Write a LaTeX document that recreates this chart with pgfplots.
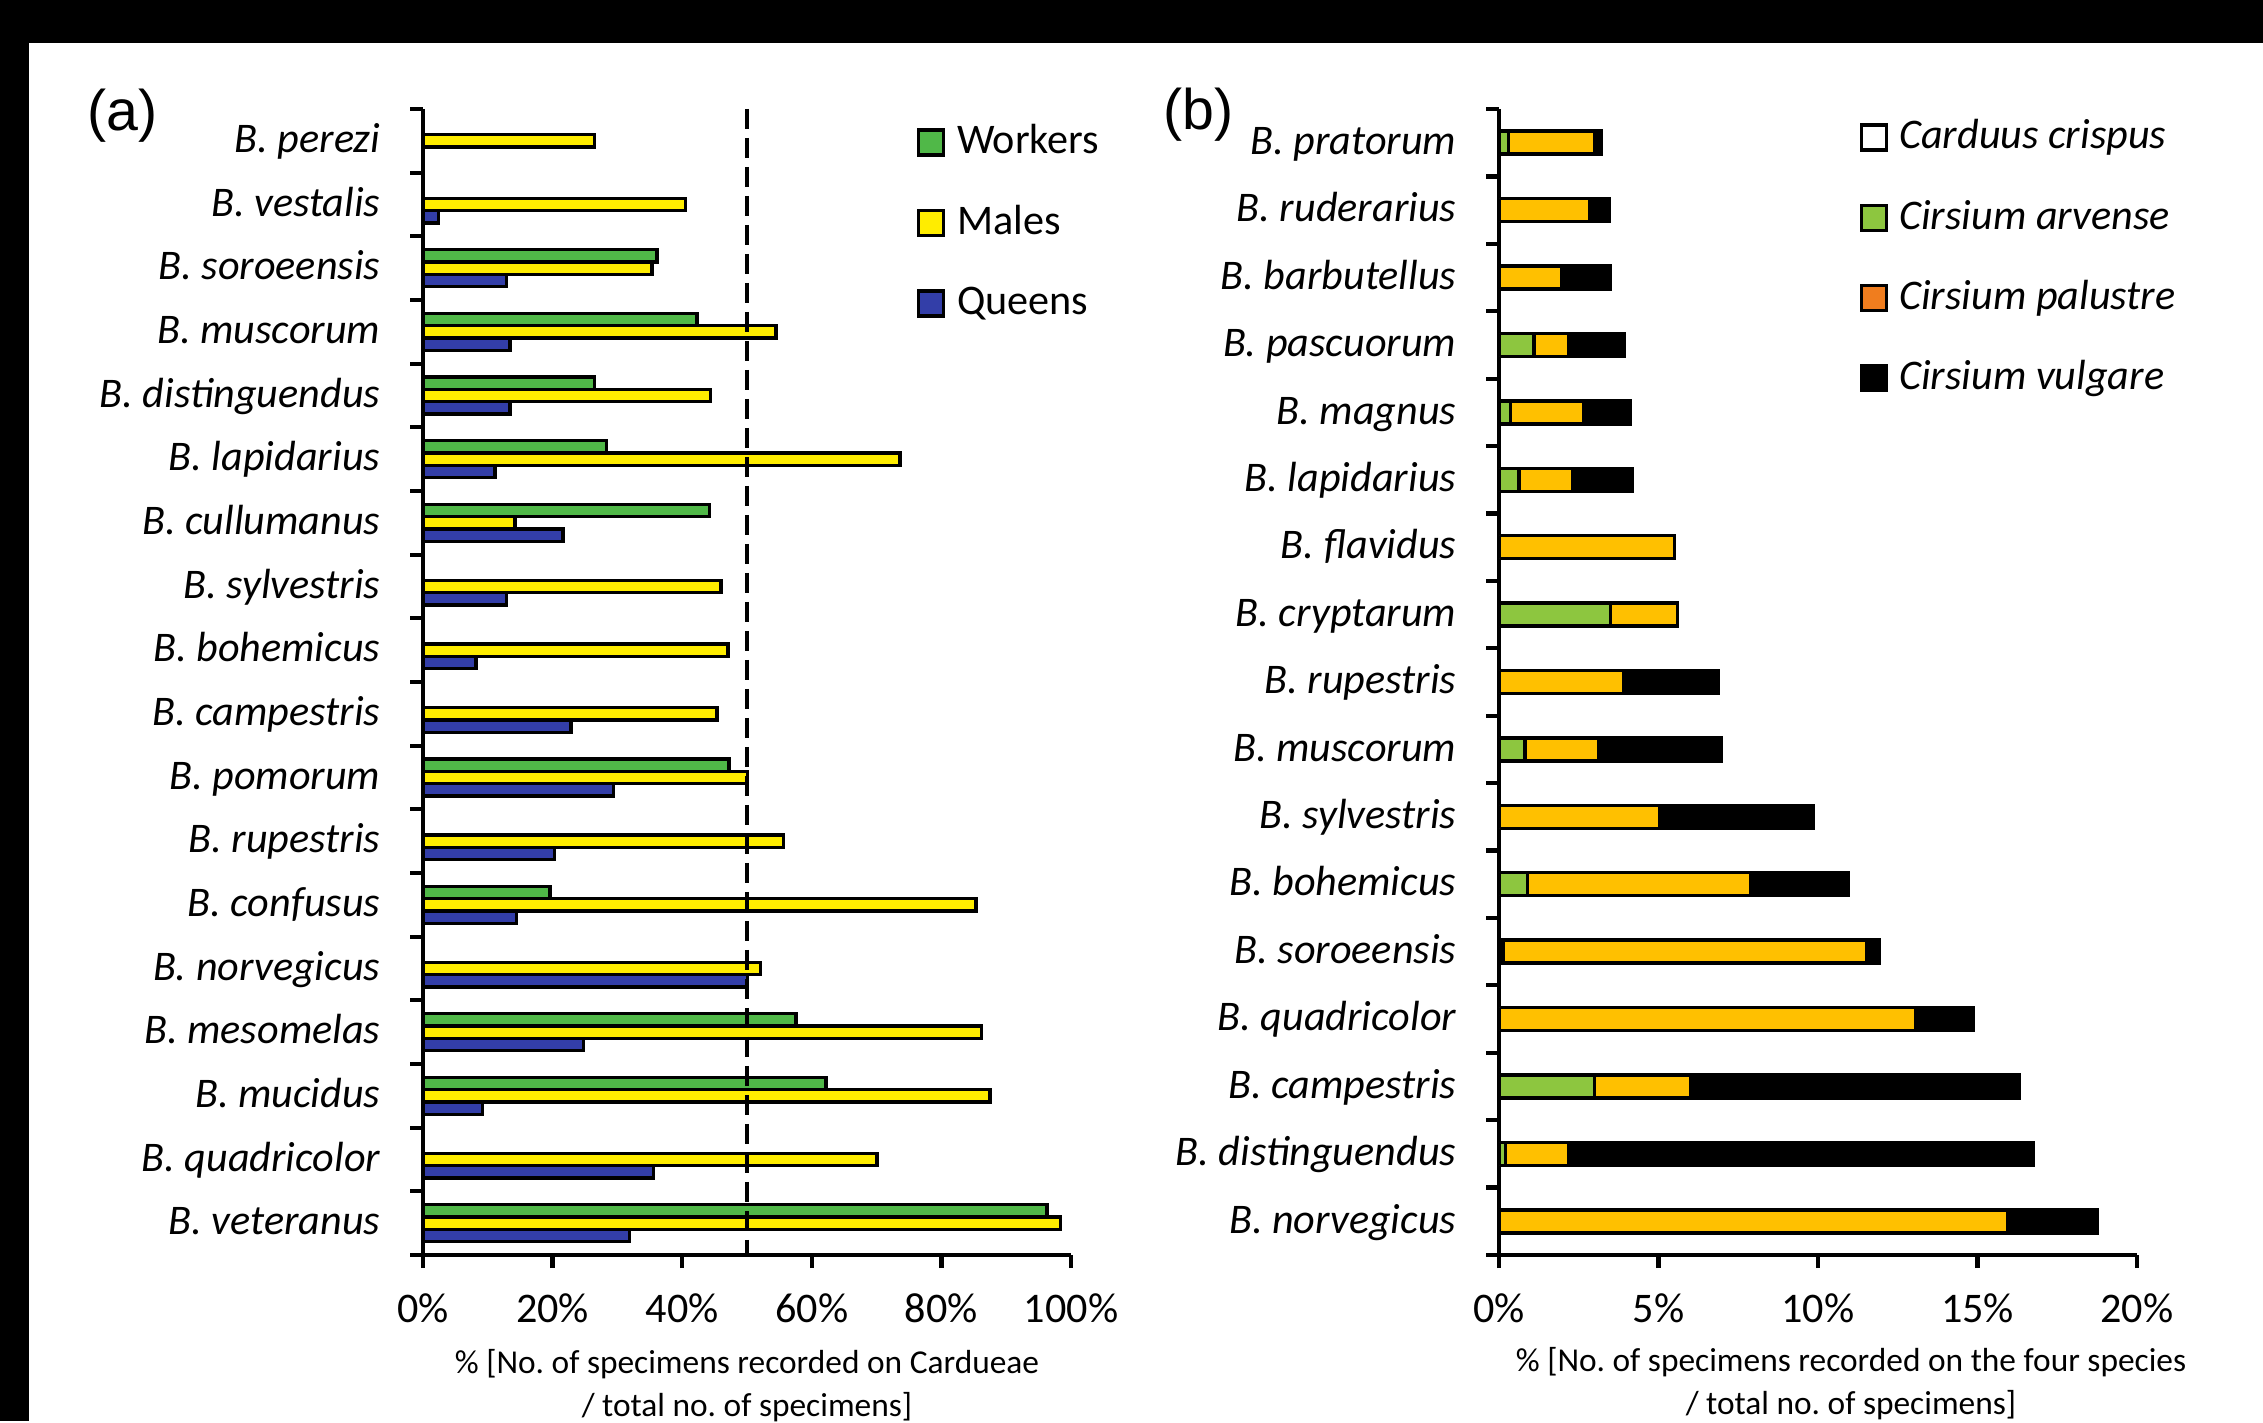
\documentclass[border=0pt]{standalone}
\usepackage{pgfplots}
\pgfplotsset{compat=1.18}
\usepackage{fontspec}
\setmainfont{Carlito}
\newfontfamily\arialfont{Liberation Sans}
\definecolor{wgreen}{RGB}{80,184,72}
\definecolor{myellow}{RGB}{255,237,0}
\definecolor{qblue}{RGB}{51,62,168}
\definecolor{agreen}{RGB}{141,198,63}
\definecolor{amber}{RGB}{255,192,0}
\definecolor{legorange}{RGB}{240,125,30}
\pgfplotsset{
  common/.style={
    scale only axis, clip=false,
    ymin=-0.5, ymax=17.5, y dir=reverse,
    axis x line*=bottom, axis y line*=left,
    axis line style={-, line width=1.2pt, black},
    tick style={black, line width=1.2pt},
    tick align=outside, major tick length=0.13cm, minor tick length=0.13cm,
    every major y tick/.append style={draw=none},
    xticklabel style={font=\fontsize{12}{14}\selectfont, anchor=base, inner sep=0pt, yshift=-0.54cm},
    yticklabel style={font=\fontsize{12}{14}\selectfont\itshape, anchor=base east, inner sep=0pt, xshift=-0.29cm, yshift=-0.117cm},
    xlabel style={font=\fontsize{9.5}{12.2}\selectfont, align=center, at={(axis description cs:0.5,0)}, anchor=north, inner sep=0pt, yshift=-0.94cm},
    legend image code/.code={\draw[##1, line width=0.9pt] (0cm,-0.01cm) rectangle (0.25cm,0.24cm); \path (0.37cm,0cm);},
    legend cell align=left,
    legend style={draw=none, fill=none, inner sep=0pt, outer sep=0pt, row sep=0.405cm,
      nodes={inner sep=0pt, text height=0.3cm, text depth=0.1cm, anchor=base west},
      font=\fontsize{12}{14}\selectfont},
  }
}
\begin{document}
\begin{tikzpicture}
\fill[white] (0,0) rectangle (22.63,14.21);
\fill[black] (0,13.78) rectangle (22.63,14.21);
\fill[black] (0,0) rectangle (0.29,14.21);
\node[font=\arialfont\fontsize{16.3}{19}\selectfont, anchor=base west, inner sep=0pt] at (0.87,12.90) {(a)};
\node[font=\arialfont\fontsize{16.3}{19}\selectfont, anchor=base west, inner sep=0pt] at (11.63,12.91) {(b)};

\begin{axis}[common,
  at={(4.23cm,1.66cm)}, anchor=south west, width=6.48cm, height=11.46cm,
  xmin=0, xmax=100,
  xtick={0,20,40,60,80,100}, xticklabels={0\%,20\%,40\%,60\%,80\%,100\%},
  ytick={0,...,17},
  yticklabels={B. perezi,B. vestalis,B. soroeensis,B. muscorum,B. distinguendus,B. lapidarius,B. cullumanus,B. sylvestris,B. bohemicus,B. campestris,B. pomorum,B. rupestris,B. confusus,B. norvegicus,B. mesomelas,B. mucidus,B. quadricolor,B. veteranus},
  minor ytick={-0.5,0.5,...,17.5},
  xlabel={\% [No.\ of specimens recorded on Cardueae\\/ total no.\ of specimens]},
  legend style={at={(axis description cs:0.762,1)}, anchor=north west, yshift=-0.15cm},
]
\addplot[xbar, bar width=0.123cm, bar shift=0.123cm, fill=wgreen, draw=black, line width=1pt]
  coordinates {(36.1,2) (42.3,3) (26.5,4) (28.3,5) (44.2,6) (47.2,10) (19.6,12) (57.6,14) (62.2,15) (96.3,17)};
\addlegendentry{Workers}
\addplot[xbar, bar width=0.123cm, bar shift=0cm, fill=myellow, draw=black, line width=1pt]
  coordinates {(26.5,0) (40.5,1) (35.3,2) (54.5,3) (44.4,4) (73.6,5) (14.2,6) (46.0,7) (47.1,8) (45.4,9) (50.1,10) (55.6,11) (85.3,12) (52.1,13) (86.2,14) (87.5,15) (70.1,16) (98.4,17)};
\addlegendentry{Males}
\addplot[xbar, bar width=0.123cm, bar shift=-0.123cm, fill=qblue, draw=black, line width=1pt]
  coordinates {(2.4,1) (12.9,2) (13.4,3) (13.4,4) (11.1,5) (21.6,6) (12.9,7) (8.2,8) (22.8,9) (29.4,10) (20.3,11) (14.4,12) (50.1,13) (24.8,14) (9.2,15) (35.6,16) (31.9,17)};
\addlegendentry{Queens}
\addplot[sharp plot, black, line width=1.2pt, dash pattern=on 0.2cm off 0.09cm, forget plot]
  coordinates {(50,-0.5) (50,17.5)};
\end{axis}

\begin{axis}[common,
  at={(14.99cm,1.66cm)}, anchor=south west, width=6.38cm, height=11.46cm,
  xmin=0, xmax=20, ymin=-0.5, ymax=16.5,
  stack plots=x,
  xtick={0,5,10,15,20}, xticklabels={0\%,5\%,10\%,15\%,20\%},
  ytick={0,...,16},
  yticklabels={B. pratorum,B. ruderarius,B. barbutellus,B. pascuorum,B. magnus,B. lapidarius,B. flavidus,B. cryptarum,B. rupestris,B. muscorum,B. sylvestris,B. bohemicus,B. soroeensis,B. quadricolor,B. campestris,B. distinguendus,B. norvegicus},
  minor ytick={-0.5,0.5,...,16.5},
  xlabel={\% [No.\ of specimens recorded on the four species\\/ total no.\ of specimens]},
  xlabel style={xshift=0.33cm, yshift=0.02cm},
  legend style={at={(axis description cs:0.5658,1)}, anchor=north west, yshift=-0.10cm, row sep=0.403cm},
]
\addplot[xbar, bar width=0.23cm, bar shift=0cm, fill=white, draw=black, line width=1pt, forget plot]
  coordinates {(0,0) (0,1) (0,2) (0,3) (0,4) (0,5) (0,6) (0,7) (0,8) (0,9) (0,10) (0,11) (0.12,12) (0,13) (0,14) (0,15) (0,16)};
\addplot[xbar, bar width=0.23cm, bar shift=0cm, fill=agreen, draw=black, line width=1pt, forget plot]
  coordinates {(0.3,0) (0,1) (0,2) (1.1,3) (0.36,4) (0.62,5) (0,6) (3.5,7) (0,8) (0.82,9) (0,10) (0.89,11) (0,12) (0,13) (3.0,14) (0.2,15) (0,16)};
\addplot[xbar, bar width=0.23cm, bar shift=0cm, fill=amber, draw=black, line width=1pt, forget plot]
  coordinates {(2.7,0) (2.85,1) (1.98,2) (1.1,3) (2.3,4) (1.7,5) (5.5,6) (2.1,7) (3.92,8) (2.3,9) (5.04,10) (7.0,11) (11.42,12) (13.07,13) (3.02,14) (1.99,15) (15.96,16)};
\addplot[xbar, bar width=0.23cm, bar shift=0cm, fill=black, draw=black, line width=1pt, forget plot]
  coordinates {(0.2,0) (0.6,1) (1.52,2) (1.74,3) (1.45,4) (1.85,5) (0,6) (0,7) (2.94,8) (3.86,9) (4.82,10) (3.05,11) (0.38,12) (1.79,13) (10.3,14) (14.55,15) (2.8,16)};
\addlegendimage{fill=white, draw=black}
\addlegendentry{\textit{Carduus crispus}}
\addlegendimage{fill=agreen, draw=black}
\addlegendentry{\textit{Cirsium arvense}}
\addlegendimage{fill=legorange, draw=black}
\addlegendentry{\textit{Cirsium palustre}}
\addlegendimage{fill=black, draw=black}
\addlegendentry{\textit{Cirsium vulgare}}
\end{axis}
\end{tikzpicture}
\end{document}
